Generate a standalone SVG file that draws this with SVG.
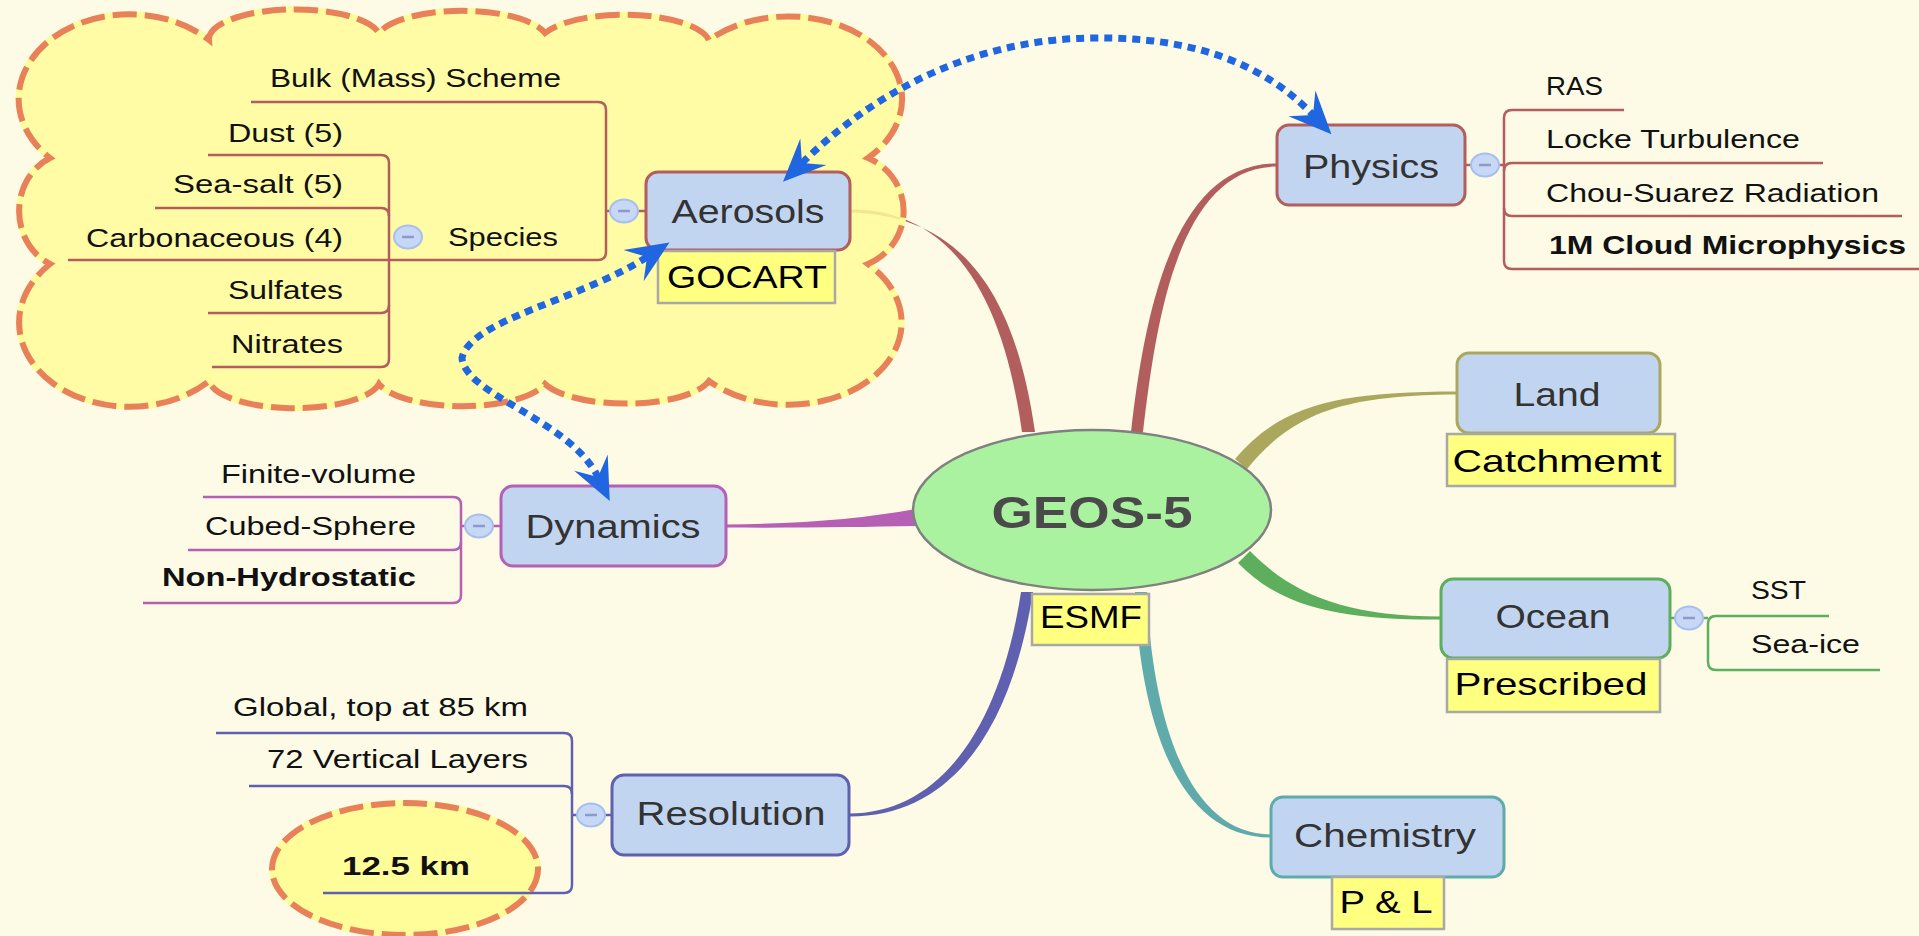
<svg xmlns="http://www.w3.org/2000/svg" width="1919" height="936" viewBox="0 0 1919 936">
<defs>
<style>
.bg{fill:#FDFBE6}
.box{fill:#C2D5F0;stroke-width:3}
.lbl{fill:#FFFF80;stroke:#A8A8A8;stroke-width:2.5}
.t{font-family:"Liberation Sans",Arial,sans-serif;font-size:25px;fill:#111}
.b{font-weight:bold}
.n{font-family:"Liberation Sans",Arial,sans-serif;font-size:34px;fill:#333;text-anchor:middle}
.y{font-family:"Liberation Sans",Arial,sans-serif;font-size:32px;fill:#000;text-anchor:middle}
.e{text-anchor:end}
.br{fill:none;stroke-width:2.5}
.btn{fill:#C6D8F6;stroke:#A6BFEE;stroke-width:2}
.minus{stroke:#8C9BC8;stroke-width:2.5}
.rel{fill:none;stroke:#1F66E0;stroke-width:7;stroke-dasharray:8 6}
</style>
<marker id="ah" markerUnits="userSpaceOnUse" markerWidth="60" markerHeight="60" viewBox="-20 -20 45 40" refX="0" refY="0" orient="auto-start-reverse">
<path d="M20,0 L-12,-14 L0,0 L-12,14 Z" fill="#1F66E0"/>
</marker>
<path id="cloudshape" d="M209,40 A86 30 0 0 1 379,33 A86 30 0 0 1 545,33 A86 30 0 0 1 709,40 A110 80 0 1 1 868,158 A60 58 0 0 1 868,264 A110 80 0 1 1 709,381 A86 30 0 0 1 545,384 A86 30 0 0 1 379,384 A86 30 0 0 1 209,381 A110 84 0 1 1 50,264 A52 58 0 0 1 50,158 A110 84 0 1 1 209,40 Z"/>
</defs>
<rect class="bg" x="0" y="0" width="1919" height="936"/>

<g id="connectors">
<path d="M1131,432 C1144,318 1172,163 1277,163.5 L1277,166.5 C1178,167 1156,322 1143,432 Z" fill="#B25E5E"/>
<path d="M1022,432 C1004,302 955,209 850,209.5 L850,212.5 C965,215 1016,298 1035,432 Z" fill="#B25E5E"/>
<path d="M1235,459 C1280,405 1338,391.5 1457,391.5 L1457,394.5 C1342,395 1292,414 1247,469 Z" fill="#ABA85E"/>
<path d="M1238,563 C1280,606 1336,620 1441,619.5 L1441,616.5 C1345,616 1292,594 1250,551 Z" fill="#5DAE5D"/>
<path d="M1135,592 C1139,702 1170,838 1271,837.5 L1271,834.5 C1180,834 1151,698 1147,592 Z" fill="#5FABAB"/>
<path d="M1021,592 C1000,728 940,813.5 849,813.5 L849,816.5 C950,817 1011,732 1033,592 Z" fill="#6060B0"/>
<path d="M726,524.5 C800,524 860,519 916,509 L916,526 C860,527 800,528 726,527.5 Z" fill="#B55FB5"/>
</g>

<g id="cloud">
<use href="#cloudshape" fill="#FFFC9A" fill-opacity="0.86" stroke="#FFFC9A" stroke-width="6"/>
<use href="#cloudshape" fill="none" stroke="#E8805A" stroke-width="6" stroke-dasharray="24 8"/>
</g>

<g id="res-boundary">
<ellipse cx="405" cy="869" rx="133" ry="66" fill="#FFFC9A" stroke="#FFFC9A" stroke-width="6"/>
<ellipse cx="405" cy="869" rx="133" ry="66" fill="none" stroke="#E8805A" stroke-width="6" stroke-dasharray="24 8"/>
</g>

<g id="branches">
<g stroke="#B25E5E" class="br">
<path d="M251,102 L598,102 Q606,102 606,110 L606,252 Q606,260 598,260 L389,260"/>
<path d="M606,211 L610,211 M638,211 L646,211"/>
<path d="M208,155 L381,155 Q389,155 389,163 L389,359 Q389,367 381,367 L212,367"/>
<path d="M155,208 L381,208 Q389,208 389,216"/>
<path d="M68,260 L389,260"/>
<path d="M208,313 L381,313 Q389,313 389,305"/>
<path d="M1624,110 L1512,110 Q1504,110 1504,118 L1504,261 Q1504,269 1512,269 L1925,269"/>
<path d="M1504,171 Q1504,163 1512,163 L1823,163"/>
<path d="M1504,208 Q1504,216 1512,216 L1902,216"/>
<path d="M1465,165 L1471,165 M1499,165 L1504,165"/>
</g>
<g stroke="#B55FB5" class="br">
<path d="M203,497 L453,497 Q461,497 461,505 L461,595 Q461,603 453,603 L143,603"/>
<path d="M188,550 L453,550 Q461,550 461,542"/>
<path d="M461,526 L465,526 M493,526 L501,526"/>
</g>
<g stroke="#6060B0" class="br">
<path d="M216,733 L564,733 Q572,733 572,741 L572,885 Q572,893 564,893 L323,893"/>
<path d="M249,786 L564,786 Q572,786 572,794"/>
<path d="M572,815 L577,815 M605,815 L612,815"/>
</g>
<g stroke="#5DAE5D" class="br">
<path d="M1829,616 L1716,616 Q1708,616 1708,624 L1708,662 Q1708,670 1716,670 L1880,670"/>
<path d="M1670,618 L1675,618 M1703,618 L1708,618"/>
</g>
</g>

<g id="geos5">
<ellipse cx="1092" cy="510" rx="179" ry="80" fill="#ABF2A0" stroke="#808080" stroke-width="2.5"/>
<text x="1092" y="528" font-family="Liberation Sans,Arial,sans-serif" font-size="45" font-weight="bold" fill="#4A4A4A" text-anchor="middle" textLength="201" lengthAdjust="spacingAndGlyphs">GEOS-5</text>
<rect class="lbl" x="1032" y="594" width="117" height="51"/>
<text class="y" x="1091" y="628" textLength="102" lengthAdjust="spacingAndGlyphs">ESMF</text>
</g>

<g id="aerosols">
<rect class="box" x="646" y="172" width="204" height="78" rx="12" stroke="#B25E5E"/>
<text class="n" x="748" y="223" textLength="153" lengthAdjust="spacingAndGlyphs">Aerosols</text>
<rect class="lbl" x="658" y="251" width="177" height="52"/>
<text class="y" x="747" y="288" textLength="160" lengthAdjust="spacingAndGlyphs">GOCART</text>
<ellipse class="btn" cx="624" cy="211" rx="14" ry="11.5"/>
<line class="minus" x1="618" y1="211" x2="630" y2="211"/>
</g>
<g id="aerosols-children">
<text class="t e" x="561" y="87" textLength="291" lengthAdjust="spacingAndGlyphs">Bulk (Mass) Scheme</text>
<text class="t e" x="558" y="246" textLength="110" lengthAdjust="spacingAndGlyphs">Species</text>
<ellipse class="btn" cx="408" cy="237" rx="14" ry="11.5"/>
<line class="minus" x1="402" y1="237" x2="414" y2="237"/>
<text class="t e" x="343" y="142" textLength="115" lengthAdjust="spacingAndGlyphs">Dust (5)</text>
<text class="t e" x="343" y="193" textLength="170" lengthAdjust="spacingAndGlyphs">Sea-salt (5)</text>
<text class="t e" x="343" y="247" textLength="257" lengthAdjust="spacingAndGlyphs">Carbonaceous (4)</text>
<text class="t e" x="343" y="299" textLength="115" lengthAdjust="spacingAndGlyphs">Sulfates</text>
<text class="t e" x="343" y="353" textLength="112" lengthAdjust="spacingAndGlyphs">Nitrates</text>
</g>

<g id="physics">
<rect class="box" x="1277" y="125" width="188" height="80" rx="12" stroke="#B25E5E"/>
<text class="n" x="1371" y="178" textLength="136" lengthAdjust="spacingAndGlyphs">Physics</text>
<ellipse class="btn" cx="1485" cy="165" rx="14" ry="11.5"/>
<line class="minus" x1="1479" y1="165" x2="1491" y2="165"/>
<text class="t" x="1546" y="95" textLength="57" lengthAdjust="spacingAndGlyphs">RAS</text>
<text class="t" x="1546" y="148" textLength="254" lengthAdjust="spacingAndGlyphs">Locke Turbulence</text>
<text class="t" x="1546" y="202" textLength="333" lengthAdjust="spacingAndGlyphs">Chou-Suarez Radiation</text>
<text class="t b" x="1549" y="254" textLength="357" lengthAdjust="spacingAndGlyphs">1M Cloud Microphysics</text>
</g>

<g id="land">
<rect class="box" x="1457" y="353" width="203" height="80" rx="12" stroke="#ABA85E"/>
<text class="n" x="1557" y="406" textLength="87" lengthAdjust="spacingAndGlyphs">Land</text>
<rect class="lbl" x="1447" y="434" width="228" height="52"/>
<text class="y" x="1557" y="472" textLength="209" lengthAdjust="spacingAndGlyphs">Catchmemt</text>
</g>

<g id="ocean">
<rect class="box" x="1441" y="579" width="229" height="79" rx="12" stroke="#5DAE5D"/>
<text class="n" x="1553" y="628" textLength="115" lengthAdjust="spacingAndGlyphs">Ocean</text>
<rect class="lbl" x="1447" y="659" width="213" height="53"/>
<text class="y" x="1551" y="695" textLength="193" lengthAdjust="spacingAndGlyphs">Prescribed</text>
<ellipse class="btn" cx="1689" cy="618" rx="14" ry="11.5"/>
<line class="minus" x1="1683" y1="618" x2="1695" y2="618"/>
<text class="t" x="1751" y="599" textLength="55" lengthAdjust="spacingAndGlyphs">SST</text>
<text class="t" x="1751" y="653" textLength="109" lengthAdjust="spacingAndGlyphs">Sea-ice</text>
</g>

<g id="chemistry">
<rect class="box" x="1271" y="797" width="233" height="80" rx="12" stroke="#5FABAB"/>
<text class="n" x="1385" y="847" textLength="182" lengthAdjust="spacingAndGlyphs">Chemistry</text>
<rect class="lbl" x="1332" y="877" width="112" height="52"/>
<text class="y" x="1386" y="913" textLength="93" lengthAdjust="spacingAndGlyphs">P &amp; L</text>
</g>

<g id="dynamics">
<rect class="box" x="501" y="486" width="225" height="80" rx="12" stroke="#B55FB5"/>
<text class="n" x="613" y="538" textLength="175" lengthAdjust="spacingAndGlyphs">Dynamics</text>
<ellipse class="btn" cx="479" cy="526" rx="14" ry="11.5"/>
<line class="minus" x1="473" y1="526" x2="485" y2="526"/>
<text class="t e" x="416" y="483" textLength="195" lengthAdjust="spacingAndGlyphs">Finite-volume</text>
<text class="t e" x="416" y="535" textLength="211" lengthAdjust="spacingAndGlyphs">Cubed-Sphere</text>
<text class="t b e" x="416" y="586" textLength="254" lengthAdjust="spacingAndGlyphs">Non-Hydrostatic</text>
</g>

<g id="resolution">
<rect class="box" x="612" y="775" width="237" height="80" rx="12" stroke="#6060B0"/>
<text class="n" x="731" y="825" textLength="189" lengthAdjust="spacingAndGlyphs">Resolution</text>
<ellipse class="btn" cx="591" cy="815" rx="14" ry="11.5"/>
<line class="minus" x1="585" y1="815" x2="597" y2="815"/>
<text class="t e" x="528" y="716" textLength="295" lengthAdjust="spacingAndGlyphs">Global, top at 85 km</text>
<text class="t e" x="528" y="768" textLength="261" lengthAdjust="spacingAndGlyphs">72 Vertical Layers</text>
<text class="t b e" x="470" y="875" textLength="128" lengthAdjust="spacingAndGlyphs">12.5 km</text>
</g>

<g id="relations">
<path class="rel" d="M802,163 C868,98 965,40 1090,38 C1200,36 1268,68 1313,115" marker-start="url(#ah)" marker-end="url(#ah)"/>
<path class="rel" d="M647,257 C580,300 470,320 462,358 C465,395 570,420 598,477" marker-start="url(#ah)" marker-end="url(#ah)"/>
</g>
</svg>
